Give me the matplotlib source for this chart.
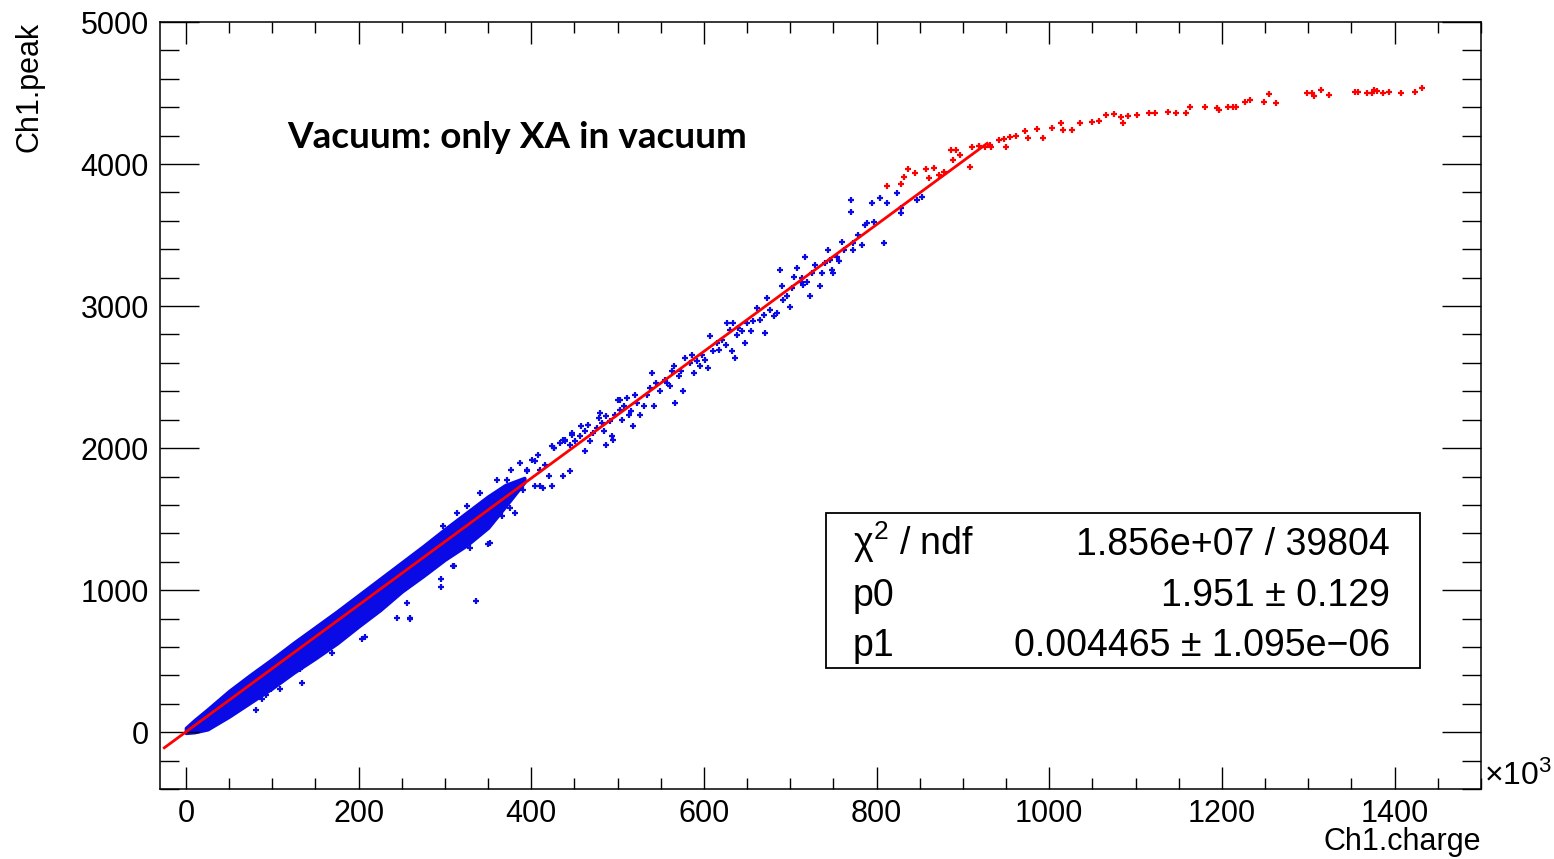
import numpy as np
import matplotlib
matplotlib.use("Agg")
import matplotlib.pyplot as plt
from matplotlib.patches import Rectangle

plt.rcParams['font.family'] = ['Liberation Sans', 'DejaVu Sans']
plt.rcParams['mathtext.fontset'] = 'custom'
plt.rcParams['mathtext.rm'] = 'Liberation Sans'
plt.rcParams['mathtext.it'] = 'Liberation Sans:italic'

# fit result (pol1) shown in the stats box
p0 = 1.951
p1 = 0.004465
fit_range = [-25, 928]          # Ch1.charge in units of 1e3

# dense core of the blue cloud: upper / lower edge (charge in 1e3)
band_x = [0, 10, 25, 50, 75, 100, 125, 150, 175, 200, 225, 250, 275, 300, 325, 350, 370, 392]
band_hi = [30, 85, 160, 290, 405, 515, 630, 740, 850, 965, 1080, 1195, 1310, 1430, 1545, 1660, 1740, 1790]
band_lo = [-5, 0, 20, 110, 210, 310, 420, 520, 625, 745, 860, 990, 1100, 1215, 1315, 1440, 1590, 1760]

# single blue points outside the dense core
blue_x = [81, 88, 93, 99, 109, 115, 117, 132, 134, 148, 153, 169, 204, 207, 205,
          256, 244, 260, 296, 296, 309, 329, 336, 352, 356, 310, 366, 350, 260,
          298, 314, 325, 341, 360, 376, 395, 404, 410, 414, 424, 424, 437, 437, 445,
          372, 375, 381, 387, 391, 395, 401, 404, 408, 410, 416, 420, 426, 439, 447, 462, 486, 495, 503,
          426, 433, 439, 445, 447, 451, 457, 458, 462, 466, 468, 472, 476, 478, 480, 482, 484,
          487, 491, 493, 497, 501, 503, 505, 507, 511, 513, 516, 518, 520, 522, 526, 530, 534,
          538, 540, 542, 545, 549, 555, 557, 561, 563, 565, 567, 571, 574, 576, 578, 584, 586,
          588, 592, 596, 598, 601, 605, 607, 611, 615, 617, 621, 625, 627, 630, 632, 634, 636,
          638, 640, 644, 648, 650, 654, 657, 661, 665, 669, 671, 673, 677, 681, 685, 688, 690,
          692, 696, 700, 702, 704, 708, 712, 713, 715, 717, 719, 723, 725, 729, 735, 737, 740,
          744, 746, 748, 750, 754, 756, 760, 762, 770, 770, 773, 773, 779, 783, 787, 789, 795,
          797, 804, 808, 812, 824, 828, 828, 847, 853]
blue_y = [155, 232, 260, 302, 302, 387, 408, 443, 349, 537, 541, 560, 654, 673, 783,
          907, 806, 806, 1080, 1024, 1169, 1298, 923, 1329, 1509, 1169, 1521, 1327, 800,
          1450, 1545, 1591, 1685, 1779, 1849, 1849, 1907, 1732, 1720, 1732, 2013, 1802, 2060, 1837,
          1779, 1580, 1545, 1896, 1708, 1837, 1919, 1732, 1954, 1849, 1884, 1802, 2001, 2048, 2107, 1978, 2025, 2060, 2341,
          2001, 2036, 2060, 2025, 2095, 2048, 2083, 2154, 2118, 2165, 2048, 2107, 2142, 2212, 2247, 2177, 2118,
          2224, 2189, 2083, 2236, 2341, 2271, 2200, 2294, 2353, 2236, 2259, 2154, 2376, 2318, 2236, 2294, 2376,
          2423, 2529, 2294, 2458, 2400, 2482, 2458, 2435, 2540, 2575, 2318, 2505, 2540, 2400, 2634, 2599, 2657,
          2528, 2611, 2575, 2657, 2622, 2564, 2786, 2681, 2740, 2693, 2763, 2728, 2880, 2833, 2681, 2880, 2634,
          2798, 2845, 2822, 2740, 2880, 2822, 2892, 2986, 2904, 2939, 2810, 3056, 2974, 2927, 2950, 3255, 3138,
          3044, 3068, 2997, 3126, 3208, 3267, 3173, 3196, 3150, 3349, 3173, 3068, 3232, 3290, 3138, 3232, 3302,
          3396, 3325, 3255, 3232, 3349, 3314, 3454, 3396, 3747, 3665, 3396, 3442, 3501, 3431, 3571, 3583, 3724,
          3595, 3759, 3442, 3724, 3794, 3653, 3689, 3747, 3771]

# red points (saturation region)
red_x = [812, 828, 832, 836, 845, 857, 867, 861, 872, 878, 886, 892, 889, 897, 908, 911, 919, 925,
         931, 933, 942, 947, 950, 955, 961, 972, 975, 986, 993, 1003, 1014, 1016, 1026, 1036, 1050,
         1058, 1066, 1075, 1083, 1085, 1091, 1102, 1116, 1122, 1138, 1147, 1158, 1163, 1180, 1194,
         1196, 1207, 1213, 1216, 1227, 1232, 1249, 1255, 1263, 1299, 1304, 1307, 1315, 1324, 1354,
         1357, 1368, 1374, 1376, 1379, 1387, 1393, 1407, 1423, 1432]
red_y = [3846, 3857, 3911, 3963, 3935, 3963, 3970, 3900, 3923, 3946, 4099, 4099, 4028, 4063, 3981,
         4117, 4127, 4117, 4134, 4117, 4169, 4174, 4117, 4188, 4197, 4235, 4181, 4244, 4181, 4251,
         4291, 4239, 4239, 4286, 4298, 4305, 4345, 4352, 4333, 4286, 4338, 4345, 4361, 4356, 4368,
         4361, 4361, 4403, 4399, 4392, 4380, 4403, 4403, 4399, 4439, 4450, 4439, 4492, 4427, 4502,
         4497, 4478, 4520, 4485, 4509, 4509, 4497, 4502, 4520, 4516, 4497, 4509, 4502, 4509, 4532]

W, H = 1554, 859
fig = plt.figure(figsize=(W / 100, H / 100), dpi=100)
ax = fig.add_axes([160 / W, 1 - 789 / H, (1481 - 160) / W, (789 - 22) / H])

blue = '#0a0ae6'
red = '#ff0000'
ax.fill_between(band_x, band_lo, band_hi, color=blue, lw=2.5, edgecolor=blue)
ax.plot(blue_x, blue_y, '+', color=blue, ms=5, mew=1.6)
ax.plot(red_x, red_y, '+', color=red, ms=5, mew=1.6)

fx = np.array(fit_range, dtype=float)
ax.plot(fx, p0 + p1 * fx * 1e3, color=red, lw=2.0)

ax.set_xlim(-30, 1500)
ax.set_ylim(-400, 5000)
ax.set_xticks(np.arange(0, 1401, 200))
ax.set_xticks(np.arange(0, 1501, 50), minor=True)
ax.set_yticks(np.arange(0, 5001, 1000))
ax.set_yticks(np.arange(-400, 5001, 200), minor=True)
ax.tick_params(which='both', direction='in', top=True, right=True, width=1.0, labelsize=22)
ax.tick_params(axis='x', which='major', length=16, pad=7)
ax.tick_params(axis='x', which='minor', length=8)
ax.tick_params(axis='y', which='major', length=28, pad=8)
ax.tick_params(axis='y', which='minor', length=14)
for s in ax.spines.values():
    s.set_linewidth(1.1)

fig.text(30 / W, 1 - 22 / H, 'Ch1.peak', rotation=90, ha='center', va='top', fontsize=22)
fig.text(1481 / W, 1 - 842 / H, 'Ch1.charge', ha='right', va='center', fontsize=22)
fig.text(1484 / W, 1 - 776 / H, r'$\times$10$^{3}$', ha='left', va='center', fontsize=23)

fig.text(287 / W, 1 - 138 / H, 'Vacuum: only XA in vacuum', ha='left', va='center',
         fontsize=26.6, fontweight='bold', family=['Lato', 'DejaVu Sans'])

# stats box
fig.patches.append(Rectangle((826 / W, 1 - 668 / H), (1420 - 826) / W, (668 - 513) / H,
                             transform=fig.transFigure, fill=False, edgecolor='black', lw=1.3))
rows = [('χ$^{2}$ / ndf', '1.856e+07 / 39804'),
        ('p0', '1.951 ± 0.129'),
        ('p1', '0.004465 ± 1.095e−06')]
for i, (name, val) in enumerate(rows):
    yb = 1 - (555 + 50.5 * i) / H
    fig.text(853 / W, yb, name, ha='left', va='baseline', fontsize=27)
    fig.text(1390 / W, yb, val, ha='right', va='baseline', fontsize=27)

fig.savefig('out.png', dpi=100)
